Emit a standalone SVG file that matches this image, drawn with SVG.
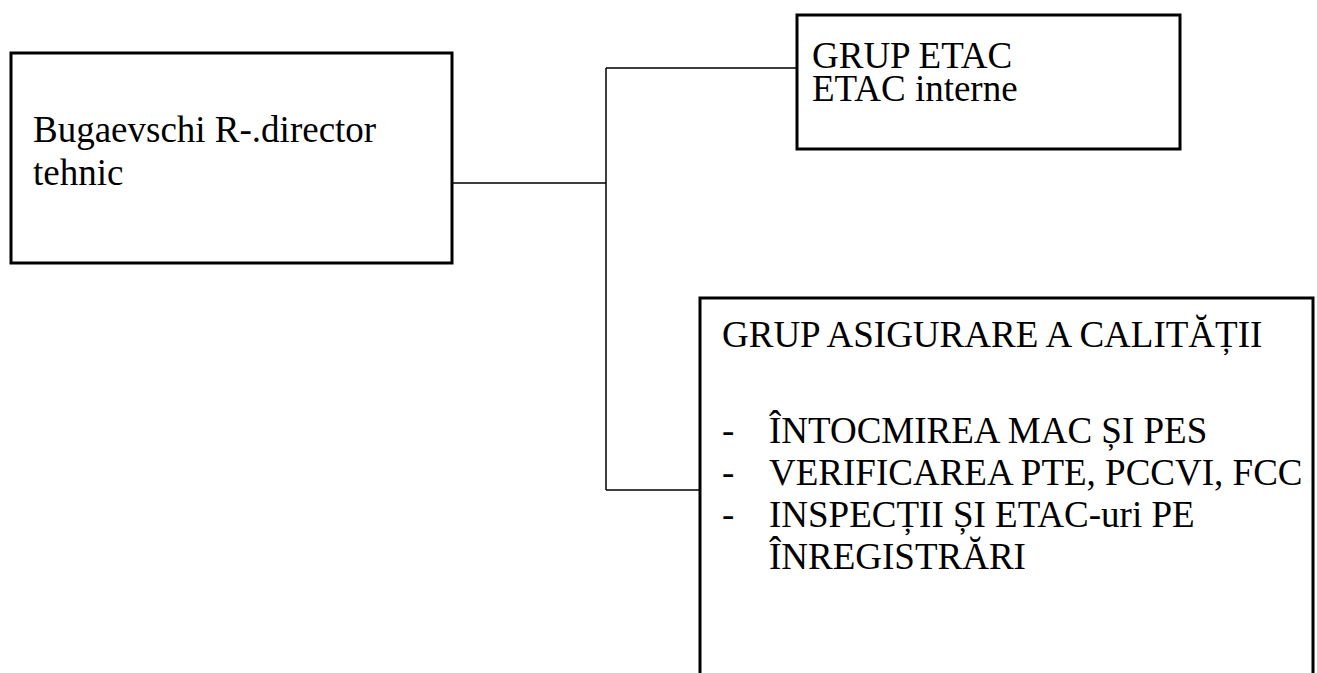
<svg xmlns="http://www.w3.org/2000/svg" width="1317" height="673" viewBox="0 0 1317 673">
<style>
.box{fill:#fff;stroke:#000;stroke-width:3}
.t{font-family:'Liberation Serif','Tinos','Times New Roman','DejaVu Serif',serif;font-size:37px;fill:#000}
.c{fill:none;stroke:#000;stroke-width:1.5}
</style>
<rect width="1317" height="673" fill="#fff"/>
<g id="connectors">
<path class="c" d="M452,183 H606 M606,68 V490 M606,68 H797 M606,490 H700"/>
</g>
<g id="node-director" font-family="Liberation Serif, serif">
<rect class="box" x="11" y="53" width="441" height="210"/>
<text class="t" x="33" y="142">Bugaevschi R-.director</text>
<text class="t" x="33" y="185">tehnic</text>
</g>
<g id="node-etac" font-family="Liberation Serif, serif">
<rect class="box" x="797" y="15" width="383" height="134"/>
<text class="t" x="812" y="68">GRUP ETAC</text>
<text class="t" x="812" y="101">ETAC interne</text>
</g>
<g id="node-calitate" font-family="Liberation Serif, serif">
<path class="box" d="M700,680 V298 H1313 V680"/>
<text class="t" x="722" y="347">GRUP ASIGURARE A CALITĂȚII</text>
<text class="t" x="722" y="443">-</text>
<text class="t" x="769" y="443">ÎNTOCMIREA MAC ȘI PES</text>
<text class="t" x="722" y="485">-</text>
<text class="t" x="769" y="485">VERIFICAREA PTE, PCCVI, FCC</text>
<text class="t" x="722" y="527">-</text>
<text class="t" x="769" y="527">INSPECȚII ȘI ETAC-uri PE</text>
<text class="t" x="769" y="569">ÎNREGISTRĂRI</text>
</g>
</svg>
